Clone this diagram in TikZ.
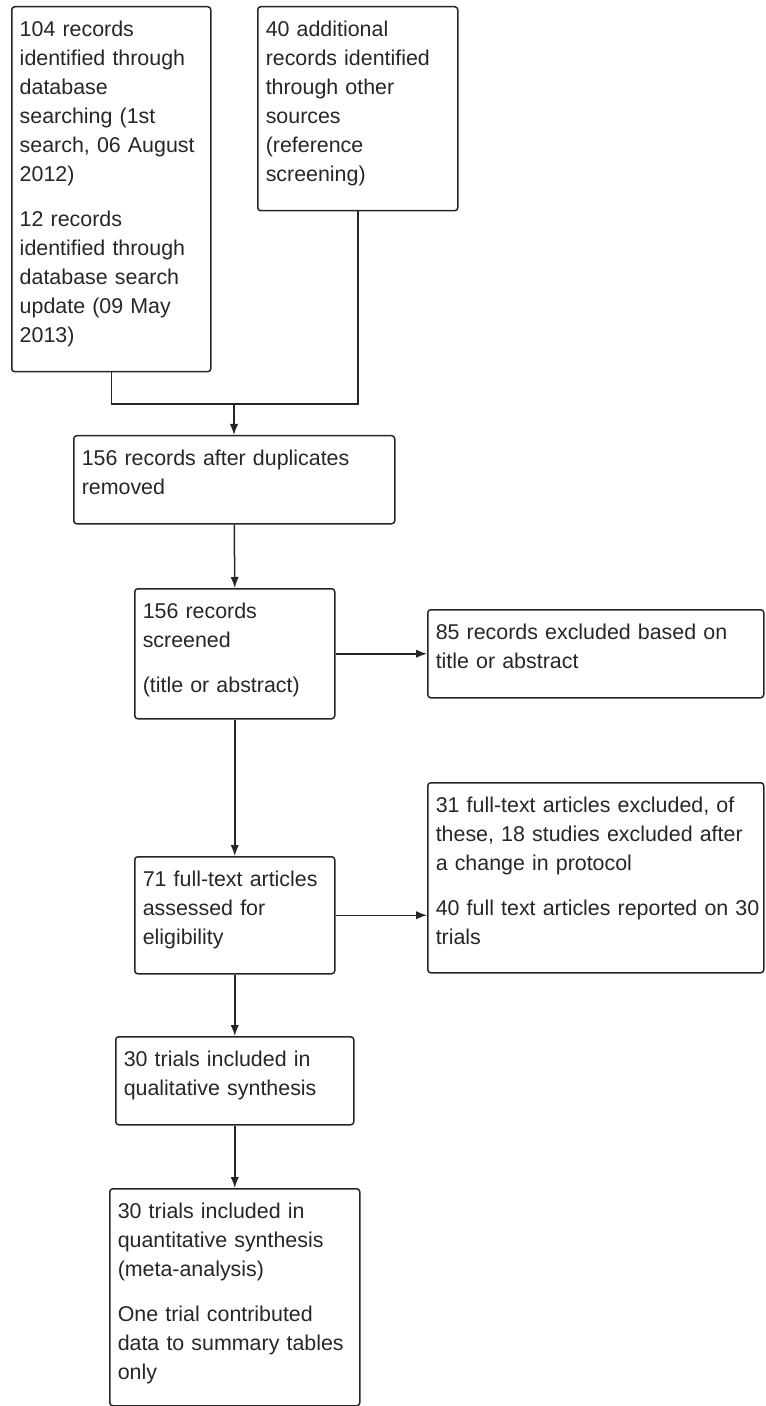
\documentclass[tikz,border=0pt]{standalone}
\usepackage{fontspec}
\setmainfont{Liberation Sans}
\usetikzlibrary{arrows.meta}
\definecolor{inkgray}{HTML}{262626}

\begin{document}
\begin{tikzpicture}[
  x=0.5pt, y=-0.5pt,
  stage/.style={draw=inkgray, line width=0.75pt, rounded corners=1.5pt, anchor=north west,
    inner xsep=4pt, inner ysep=0pt, align=left, text height=15pt, text=inkgray,
    font=\fontsize{10.7}{14.5}\selectfont},
  joint/.style={draw=inkgray, line width=0.75pt},
  flow/.style={joint, -{Latex[length=5.5pt,width=4.2pt]}}
]
\useasboundingbox (0,0) rectangle (765,1406);

% --- identification ---
\node[stage, text width=91.5pt, text depth=167.5pt] (search) at (11,6)
  {104 records\\identified through\\database\\searching (1st\\search, 06 August\\2012)\\[8pt]12 records\\identified through\\database search\\update (09 May\\2013)};
\node[stage, text width=92pt, text depth=87pt] (other) at (257,6)
  {40 additional\\records identified\\through other\\sources\\(reference\\screening)};

% --- screening ---
\node[stage, text width=152.5pt, text depth=29pt] (dedup) at (73,435)
  {156 records after duplicates\\removed};
\node[stage, text width=92pt, text depth=50pt] (screen) at (134,588)
  {156 records\\screened\\[8pt](title or abstract)};
\node[stage, text width=160pt, text depth=29pt] (excl1) at (427,609)
  {85 records excluded based on\\title or abstract};

% --- eligibility ---
\node[stage, text width=92pt, text depth=43.5pt] (fulltext) at (134,856)
  {71 full-text articles\\assessed for\\eligibility};
\node[stage, text width=160pt, text depth=80pt] (excl2) at (427,782)
  {31 full-text articles excluded, of\\these, 18 studies excluded after\\a change in protocol\\[8pt]\mbox{40 full text articles reported on 30}\\trials};

% --- included ---
\node[stage, text width=111pt, text depth=29pt] (qual) at (115,1036)
  {30 trials included in\\qualitative synthesis};
\node[stage, text width=117pt, text depth=93.5pt] (quant) at (109,1188)
  {30 trials included in\\quantitative synthesis\\(meta-analysis)\\[8pt]One trial contributed\\data to summary tables\\only};

% --- connectors ---
\coordinate (merge) at (234,404);
\draw[joint] (search.south) |- (merge) -| (other.south);
\draw[flow] (merge) -- (merge |- dedup.north);
\draw[flow] (dedup.south) -- (screen.north);
\draw[flow] (screen.east) -- (excl1.west);
\draw[flow] (screen.south) -- (fulltext.north);
\draw[flow] (fulltext.east) -- (fulltext.east -| excl2.west);
\draw[flow] (fulltext.south) -- (qual.north);
\draw[flow] (qual.south) -- (quant.north);

\end{tikzpicture}
\end{document}
